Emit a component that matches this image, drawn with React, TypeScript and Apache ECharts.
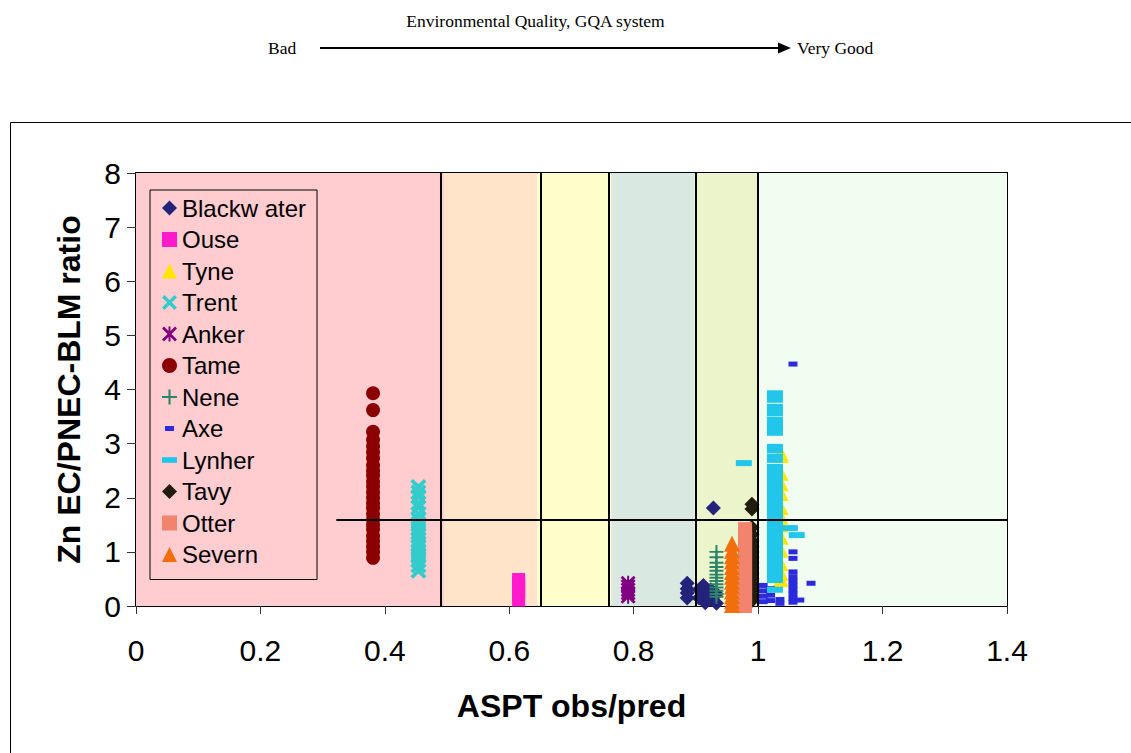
import React, { useEffect, useRef } from "react";
import * as echarts from "echarts";

const FONT = "'Liberation Sans', Arial, sans-serif";
const SERIF = "'Liberation Serif', 'Times New Roman', serif";

// ---- data ----
const seriesNames = ["Blackw ater", "Ouse", "Tyne", "Trent", "Anker", "Tame", "Nene", "Axe", "Lynher", "Tavy", "Otter", "Severn"];

const blackwater = [[0.886, 0.42], [0.886, 0.32], [0.886, 0.24], [0.886, 0.15], [0.905, 0.3], [0.905, 0.15], [0.912, 0.38], [0.915, 0.22], [0.915, 0.06], [0.924, 0.3], [0.924, 0.12], [0.933, 0.22], [0.933, 0.05], [0.928, 1.81]];
const ouse = [[0.615, 0.49], [0.615, 0.43], [0.615, 0.37], [0.615, 0.31], [0.615, 0.25], [0.615, 0.19], [0.615, 0.11]];
const tyne = [[1.036, 2.83], [1.036, 2.79], [1.036, 2.46], [1.036, 2.27], [1.036, 2.09], [1.036, 1.83], [1.036, 1.65], [1.036, 1.5], [1.036, 1.28], [1.036, 1.04], [1.036, 0.79], [1.036, 0.61], [1.036, 0.5]];
const trent = [[0.454, 2.2], [0.454, 2.1], [0.454, 2.02], [0.454, 1.9], [0.454, 1.82], [0.454, 1.7], [0.454, 1.6], [0.454, 1.52], [0.454, 1.44], [0.454, 1.36], [0.454, 1.3], [0.454, 1.22], [0.454, 1.15], [0.454, 1.08], [0.454, 1.0], [0.454, 0.92], [0.454, 0.84], [0.454, 0.75], [0.454, 0.65]];
const anker = [[0.791, 0.42], [0.791, 0.36], [0.791, 0.3], [0.791, 0.24], [0.791, 0.18]];
const tame = [[0.381, 3.93], [0.381, 3.62], [0.381, 3.22], [0.381, 3.07], [0.381, 2.95], [0.381, 2.84], [0.381, 2.73], [0.381, 2.6], [0.381, 2.5], [0.381, 2.41], [0.381, 2.3], [0.381, 2.21], [0.381, 2.1], [0.381, 2.0], [0.381, 1.9], [0.381, 1.81], [0.381, 1.7], [0.381, 1.6], [0.381, 1.5], [0.381, 1.42], [0.381, 1.3], [0.381, 1.2], [0.381, 1.1], [0.381, 1.0], [0.381, 0.89]];
const nene = [[0.933, 1.0], [0.933, 0.9], [0.933, 0.8], [0.933, 0.72], [0.933, 0.65], [0.933, 0.58], [0.933, 0.52], [0.933, 0.46], [0.933, 0.4], [0.933, 0.34], [0.933, 0.28], [0.933, 0.22], [0.933, 0.17]];
const axe = [[1.056, 4.47], [1.056, 1.0], [1.056, 0.88], [1.056, 0.63], [1.056, 0.54], [1.056, 0.46], [1.056, 0.38], [1.056, 0.3], [1.056, 0.22], [1.056, 0.14], [1.056, 0.07], [1.085, 0.42], [1.067, 0.11], [1.008, 0.38], [1.008, 0.28], [1.008, 0.18], [1.008, 0.08], [1.02, 0.32], [1.02, 0.2], [1.02, 0.1], [1.035, 0.12], [1.035, 0.05]];
const lynher = [[1.027, 3.93], [1.027, 3.87], [1.027, 3.81], [1.027, 3.68], [1.027, 3.62], [1.027, 3.56], [1.027, 3.44], [1.027, 3.38], [1.027, 3.32], [1.027, 3.26], [1.027, 3.2], [1.027, 2.94], [1.027, 2.88], [1.027, 2.76], [1.027, 2.7], [1.027, 2.57], [1.027, 2.5], [1.027, 2.44], [1.027, 2.36], [1.027, 2.3], [1.027, 2.22], [1.027, 2.15], [1.027, 2.07], [1.027, 2.01], [1.027, 1.94], [1.027, 1.86], [1.027, 1.8], [1.027, 1.72], [1.027, 1.66], [1.027, 1.59], [1.027, 1.51], [1.027, 1.45], [1.027, 1.38], [1.027, 1.3], [1.027, 1.24], [1.027, 1.17], [1.027, 1.1], [1.027, 1.02], [1.027, 0.96], [1.027, 0.89], [1.027, 0.81], [1.027, 0.75], [1.027, 0.68], [1.027, 0.6], [1.027, 0.54], [1.027, 0.48], [1.027, 0.3], [0.977, 2.64], [1.051, 1.44], [1.062, 1.31]];
const tavy = [[0.99, 1.88], [0.99, 1.79], [0.99, 1.45], [0.99, 1.32], [0.99, 1.2], [0.99, 1.1], [0.99, 1.0], [0.99, 0.9], [0.99, 0.8], [0.99, 0.7], [0.99, 0.6], [0.99, 0.5], [0.99, 0.4], [0.99, 0.3], [0.99, 0.2], [0.99, 0.1]];
const otter = [[0.979, 1.42], [0.979, 1.33], [0.979, 1.24], [0.979, 1.15], [0.979, 1.06], [0.979, 0.97], [0.979, 0.88], [0.979, 0.79], [0.979, 0.7], [0.979, 0.61], [0.979, 0.52], [0.979, 0.43], [0.979, 0.34], [0.979, 0.25], [0.979, 0.16], [0.979, 0.07], [0.979, 0.0]];
const severn = [[0.958, 1.15], [0.958, 1.02], [0.958, 0.92], [0.958, 0.82], [0.958, 0.72], [0.958, 0.63], [0.958, 0.54], [0.958, 0.45], [0.958, 0.36], [0.958, 0.27], [0.958, 0.18], [0.958, 0.09], [0.958, 0.02]];

// GQA band boundaries (x) and threshold (y)
const bandEdges = [0, 0.495, 0.645, 0.764, 0.897, 1.0, 1.4];
const gqaLines = [0.495, 0.645, 0.764, 0.897, 1.0];
const threshold = 1.6;
const thresholdStart = 0.322;

// ---- styles ----
const bandColors = ["#FFCCD0", "#FFE4C9", "#FFFFCC", "#D9E9E1", "#ECF4CC", "#F2FDF1"];

const X_PATH = "path://M0,1.6L1.6,0L5,3.4L8.4,0L10,1.6L6.6,5L10,8.4L8.4,10L5,6.6L1.6,10L0,8.4L3.4,5Z";
const PLUS_PATH = "path://M4.3,0H5.7V4.3H10V5.7H5.7V10H4.3V5.7H0V4.3H4.3Z";
const AST_PATH = "path://M0,1.3L1.3,0L5,3.7L8.7,0L10,1.3L6.3,5L10,8.7L8.7,10L5,6.3L1.3,10L0,8.7L3.7,5Z M4.35,0H5.65V10H4.35Z";
const AXE_PATH = "path://M0,0M3,5H12V10H3ZM15,15";
const LYN_PATH = "path://M0,0M0,5H16V11H0ZM16,16";

const seriesStyle: Record<string, { data: number[][]; color: string; symbol: string; size: number }> = {
  "Blackw ater": { data: blackwater, color: "#23237A", symbol: "diamond", size: 15 },
  Ouse: { data: ouse, color: "#FF1ACC", symbol: "rect", size: 13 },
  Tyne: { data: tyne, color: "#FFE600", symbol: "triangle", size: 16 },
  Trent: { data: trent, color: "#33CCCC", symbol: X_PATH, size: 16 },
  Anker: { data: anker, color: "#800080", symbol: AST_PATH, size: 15 },
  Tame: { data: tame, color: "#8B0000", symbol: "circle", size: 14 },
  Nene: { data: nene, color: "#2E8468", symbol: PLUS_PATH, size: 14 },
  Axe: { data: axe, color: "#2B2BDD", symbol: AXE_PATH, size: 15 },
  Lynher: { data: lynher, color: "#22C6EA", symbol: LYN_PATH, size: 16 },
  Tavy: { data: tavy, color: "#221C10", symbol: "diamond", size: 15 },
  Otter: { data: otter, color: "#F2836C", symbol: "rect", size: 14 },
  Severn: { data: severn, color: "#F26E0C", symbol: "triangle", size: 16 },
};

export default function App() {
  const ref = useRef<HTMLDivElement>(null);
  useEffect(() => {
    if (!ref.current) return;
    const chart = echarts.init(ref.current, null, { renderer: "svg" });

    const bandAreas = bandColors.map((c, i) => [
      { xAxis: bandEdges[i], itemStyle: { color: c } },
      { xAxis: bandEdges[i + 1] },
    ]);

    const scatterSeries = seriesNames.map((n) => {
      const s = seriesStyle[n];
      return {
        name: n,
        type: "scatter",
        data: s.data,
        symbol: s.symbol,
        symbolSize: s.size,
        symbolKeepAspect: true,
        itemStyle: { color: s.color, opacity: 1 },
        clip: false,
        z: 3,
      };
    });

    const option: any = {
      animation: false,
      backgroundColor: "#ffffff",
      grid: { left: 136, right: 124, top: 173, bottom: 147, show: true, borderColor: "#000", borderWidth: 2, backgroundColor: "transparent" },
      xAxis: {
        type: "value",
        min: 0,
        max: 1.4,
        interval: 0.2,
        name: "ASPT obs/pred",
        nameLocation: "middle",
        nameGap: 84,
        nameTextStyle: { fontFamily: FONT, fontSize: 32, fontWeight: "bold", color: "#000" },
        axisLine: { show: true, lineStyle: { color: "#000", width: 2 } },
        axisTick: { show: true, length: 8, lineStyle: { color: "#333", width: 1 } },
        axisLabel: { fontFamily: FONT, fontSize: 30, color: "#000", margin: 29 },
        splitLine: { show: false },
      },
      yAxis: {
        type: "value",
        min: 0,
        max: 8,
        interval: 1,
        name: "Zn EC/PNEC-BLM ratio",
        nameLocation: "middle",
        nameGap: 51,
        nameTextStyle: { fontFamily: FONT, fontSize: 32, fontWeight: "bold", color: "#000" },
        axisLine: { show: true, lineStyle: { color: "#000", width: 2 } },
        axisTick: { show: true, length: 9, lineStyle: { color: "#333", width: 1 } },
        axisLabel: { fontFamily: FONT, fontSize: 30, color: "#000", margin: 15 },
        splitLine: { show: false },
      },
      legend: {
        data: seriesNames,
        orient: "vertical",
        left: 150,
        top: 190,
        padding: [6, 11, 13, 12],
        itemWidth: 15,
        itemHeight: 15,
        itemGap: 7.5,
        itemTextGap: 10,
        borderColor: "#000",
        borderWidth: 1,
        backgroundColor: "transparent",
        textStyle: { fontFamily: FONT, fontSize: 24, color: "#000", lineHeight: 24 },
      },
      series: [
        {
          name: "bands",
          type: "scatter",
          data: [],
          silent: true,
          z: 1,
          markArea: { silent: true, data: bandAreas },
        },
        ...scatterSeries,
        {
          name: "lines",
          type: "scatter",
          data: [],
          silent: true,
          z: 10,
          markLine: {
            silent: true,
            symbol: "none",
            label: { show: false },
            lineStyle: { color: "#000", width: 2, type: "solid" },
            data: [
              ...gqaLines.map((x) => ({ xAxis: x })),
              [{ coord: [thresholdStart, threshold] }, { coord: [1.4, threshold] }],
            ],
          },
        },
      ],
      graphic: [
        { type: "rect", shape: { x: 10.5, y: 122.5, width: 1200, height: 700 }, style: { fill: "none", stroke: "#000", lineWidth: 1 }, silent: true },
        { type: "text", x: 535.5, y: 21, style: { text: "Environmental Quality, GQA system", font: `17.5px ${SERIF}`, fill: "#000", textAlign: "center", textVerticalAlign: "middle" } },
        { type: "text", x: 268, y: 48, style: { text: "Bad", font: `17.5px ${SERIF}`, fill: "#000", textAlign: "left", textVerticalAlign: "middle" } },
        { type: "line", shape: { x1: 320, y1: 48, x2: 780, y2: 48 }, style: { stroke: "#000", lineWidth: 2 } },
        { type: "polygon", shape: { points: [[778, 42.5], [791, 48], [778, 53.5]] }, style: { fill: "#000" } },
        { type: "text", x: 797, y: 48, style: { text: "Very Good", font: `17.5px ${SERIF}`, fill: "#000", textAlign: "left", textVerticalAlign: "middle" } },
      ],
    };
    chart.setOption(option);
    return () => chart.dispose();
  }, []);
  return <div ref={ref} style={{ position: "absolute", left: 0, top: 0, width: 1131, height: 753 }} />;
}
